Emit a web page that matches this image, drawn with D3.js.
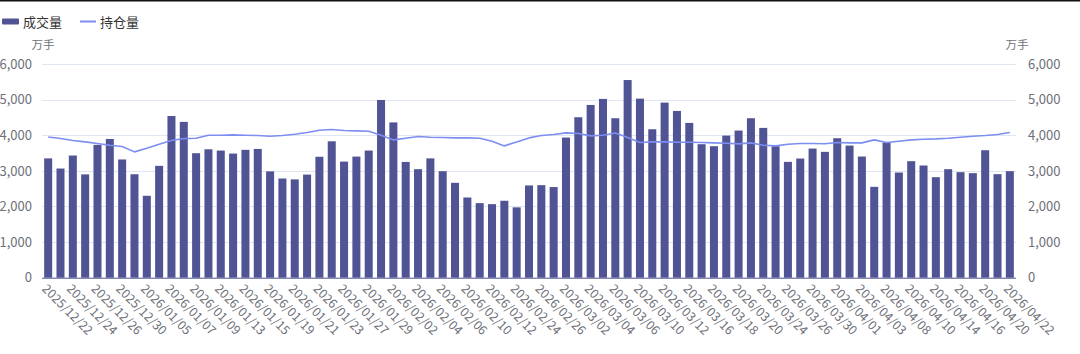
<!DOCTYPE html>
<html>
<head>
<meta charset="utf-8">
<script src="https://cdn.jsdelivr.net/npm/d3@7"></script>
<style>
  html, body { margin: 0; padding: 0; background: #fff; }
  svg { display: block; font-family: "Noto Sans CJK SC", "Noto Sans", sans-serif; }
</style>
</head>
<body>
<div id="chart"></div>
<script>
const dates = [
  "2025/12/22","2025/12/23","2025/12/24","2025/12/25","2025/12/26","2025/12/29","2025/12/30","2025/12/31",
  "2026/01/05","2026/01/06","2026/01/07","2026/01/08","2026/01/09","2026/01/12","2026/01/13","2026/01/14",
  "2026/01/15","2026/01/16","2026/01/19","2026/01/20","2026/01/21","2026/01/22","2026/01/23","2026/01/26",
  "2026/01/27","2026/01/28","2026/01/29","2026/01/30","2026/02/02","2026/02/03","2026/02/04","2026/02/05",
  "2026/02/06","2026/02/09","2026/02/10","2026/02/11","2026/02/12","2026/02/13","2026/02/24","2026/02/25",
  "2026/02/26","2026/02/27","2026/03/02","2026/03/03","2026/03/04","2026/03/05","2026/03/06","2026/03/09",
  "2026/03/10","2026/03/11","2026/03/12","2026/03/13","2026/03/16","2026/03/17","2026/03/18","2026/03/19",
  "2026/03/20","2026/03/23","2026/03/24","2026/03/25","2026/03/26","2026/03/27","2026/03/30","2026/03/31",
  "2026/04/01","2026/04/02","2026/04/03","2026/04/07","2026/04/08","2026/04/09","2026/04/10","2026/04/13",
  "2026/04/14","2026/04/15","2026/04/16","2026/04/17","2026/04/20","2026/04/21","2026/04/22"
]

// 成交量 (万手)
const volume = [
  3350, 3065, 3430, 2900, 3730, 3895, 3320, 2905, 2300, 3140, 4540, 4375, 3495, 3605, 3570, 3485,
  3590, 3615, 2985, 2785, 2760, 2895, 3395, 3830, 3260, 3400, 3570, 4990, 4360, 3250, 3047, 3350,
  2990, 2664, 2252, 2093, 2065, 2160, 1975, 2590, 2598, 2545, 3935, 4505, 4850, 5020, 4477, 5550,
  5028, 4168, 4916, 4682, 4346, 3748, 3692, 3990, 4131, 4477, 4206, 3692, 3252, 3346, 3626, 3533,
  3916, 3710, 3402, 2551, 3794, 2953, 3271, 3150, 2822, 3047, 2963, 2935, 3579, 2907, 2991
]

// 持仓量 (万手)
const openInterest = [
  3950, 3906, 3850, 3813, 3766, 3720, 3682, 3533, 3636, 3748, 3850, 3906, 3916, 4000, 4000, 4009,
  4000, 3991, 3972, 3991, 4028, 4075, 4140, 4159, 4131, 4121, 4112, 4000, 3869, 3916, 3963, 3944,
  3935, 3925, 3925, 3916, 3832, 3701, 3813, 3925, 3991, 4019, 4065, 4047, 3981, 4000, 4065, 3935,
  3794, 3813, 3813, 3804, 3804, 3794, 3785, 3776, 3757, 3785, 3720, 3701, 3748, 3766, 3766, 3760,
  3794, 3785, 3785, 3869, 3794, 3832, 3869, 3888, 3897, 3916, 3944, 3972, 3991, 4019, 4075
]

const yTicks = [0, 1000, 2000, 3000, 4000, 5000, 6000]
const seriesNames = ["成交量", "持仓量"]
const unitLabel = "万手"

const width = 1080
const height = 354
const margin = { top: 64, right: 64, bottom: 76.3, left: 42 }
const barColor = "#505494"
const lineColor = "#7d8ef0"
const textColor = "#6e7079"

const svg = d3.select("#chart")
  .append("svg")
  .attr("width", width)
  .attr("height", height)

// thin dark strip along the very top of the capture
svg.append("rect")
  .attr("x", 0).attr("y", 0)
  .attr("width", width).attr("height", 1.5)
  .attr("fill", "#111")

const x = d3.scaleBand()
  .domain(dates)
  .range([margin.left, width - margin.right])
  .paddingInner(0.35)
  .paddingOuter(0.175)

const y = d3.scaleLinear()
  .domain([0, 6000])
  .range([height - margin.bottom, margin.top])

// grid lines
svg.append("g")
  .selectAll("line")
  .data(yTicks.filter(d => d > 0))
  .enter()
  .append("line")
  .attr("x1", margin.left)
  .attr("x2", width - margin.right)
  .attr("y1", d => Math.round(y(d)) + 0.5)
  .attr("y2", d => Math.round(y(d)) + 0.5)
  .attr("stroke", "#e0e6f1")

// left axis
const leftAxis = svg.append("g")
  .attr("transform", `translate(${margin.left - 7},0)`)
  .call(d3.axisLeft(y).tickValues(yTicks).tickFormat(d3.format(",")).tickSize(0))
leftAxis.select(".domain").remove()
leftAxis.selectAll("text")
  .attr("fill", textColor)
  .attr("font-size", 13)
  .attr("font-family", "Noto Sans CJK SC, Noto Sans, sans-serif")

// right axis
const rightAxis = svg.append("g")
  .attr("transform", `translate(${width - margin.right + 9},0)`)
  .call(d3.axisRight(y).tickValues(yTicks).tickFormat(d3.format(",")).tickSize(0))
rightAxis.select(".domain").remove()
rightAxis.selectAll("text")
  .attr("fill", textColor)
  .attr("font-size", 13)
  .attr("font-family", "Noto Sans CJK SC, Noto Sans, sans-serif")

// units
svg.append("text")
  .attr("x", 43).attr("y", 44)
  .attr("text-anchor", "middle")
  .attr("dominant-baseline", "central")
  .attr("font-size", 11.5)
  .attr("fill", textColor)
  .text(unitLabel)

svg.append("text")
  .attr("x", 1017).attr("y", 44)
  .attr("text-anchor", "middle")
  .attr("dominant-baseline", "central")
  .attr("font-size", 11.5)
  .attr("fill", textColor)
  .text(unitLabel)

// bars
svg.append("g")
  .selectAll("rect")
  .data(dates)
  .enter()
  .append("rect")
  .attr("x", d => x(d))
  .attr("width", x.bandwidth())
  .attr("y", (d, i) => y(volume[i]))
  .attr("height", (d, i) => y(0) - y(volume[i]))
  .attr("fill", barColor)

// x axis line
svg.append("line")
  .attr("x1", margin.left)
  .attr("x2", width - margin.right)
  .attr("y1", y(0) + 0.5)
  .attr("y2", y(0) + 0.5)
  .attr("stroke", barColor)

// open interest line
const line = d3.line()
  .x((d, i) => x(dates[i]) + x.bandwidth() / 2)
  .y(d => y(d))

svg.append("path")
  .datum(openInterest)
  .attr("d", line)
  .attr("fill", "none")
  .attr("stroke", lineColor)
  .attr("stroke-width", 1.6)
  .attr("stroke-linejoin", "round")

// x tick labels, every other date
svg.append("g")
  .selectAll("text")
  .data(dates.filter((d, i) => i % 2 === 0))
  .enter()
  .append("text")
  .attr("transform", d => `translate(${x(d) + x.bandwidth() / 2 - 3},${y(0) + 8}) rotate(45)`)
  .attr("text-anchor", "start")
  .attr("dominant-baseline", "central")
  .attr("font-size", 12.5)
  .attr("fill", textColor)
  .text(d => d)

// legend
const legend = svg.append("g")
legend.append("rect")
  .attr("x", 2).attr("y", 18.5)
  .attr("width", 17).attr("height", 6)
  .attr("rx", 1)
  .attr("fill", barColor)
legend.append("text")
  .attr("x", 23).attr("y", 21.5)
  .attr("dominant-baseline", "central")
  .attr("font-size", 13)
  .attr("fill", "#333")
  .text(seriesNames[0])
legend.append("line")
  .attr("x1", 80).attr("x2", 96)
  .attr("y1", 21.5).attr("y2", 21.5)
  .attr("stroke", lineColor)
  .attr("stroke-width", 2)
legend.append("text")
  .attr("x", 100).attr("y", 21.5)
  .attr("dominant-baseline", "central")
  .attr("font-size", 13)
  .attr("fill", "#333")
  .text(seriesNames[1])
</script>
</body>
</html>
